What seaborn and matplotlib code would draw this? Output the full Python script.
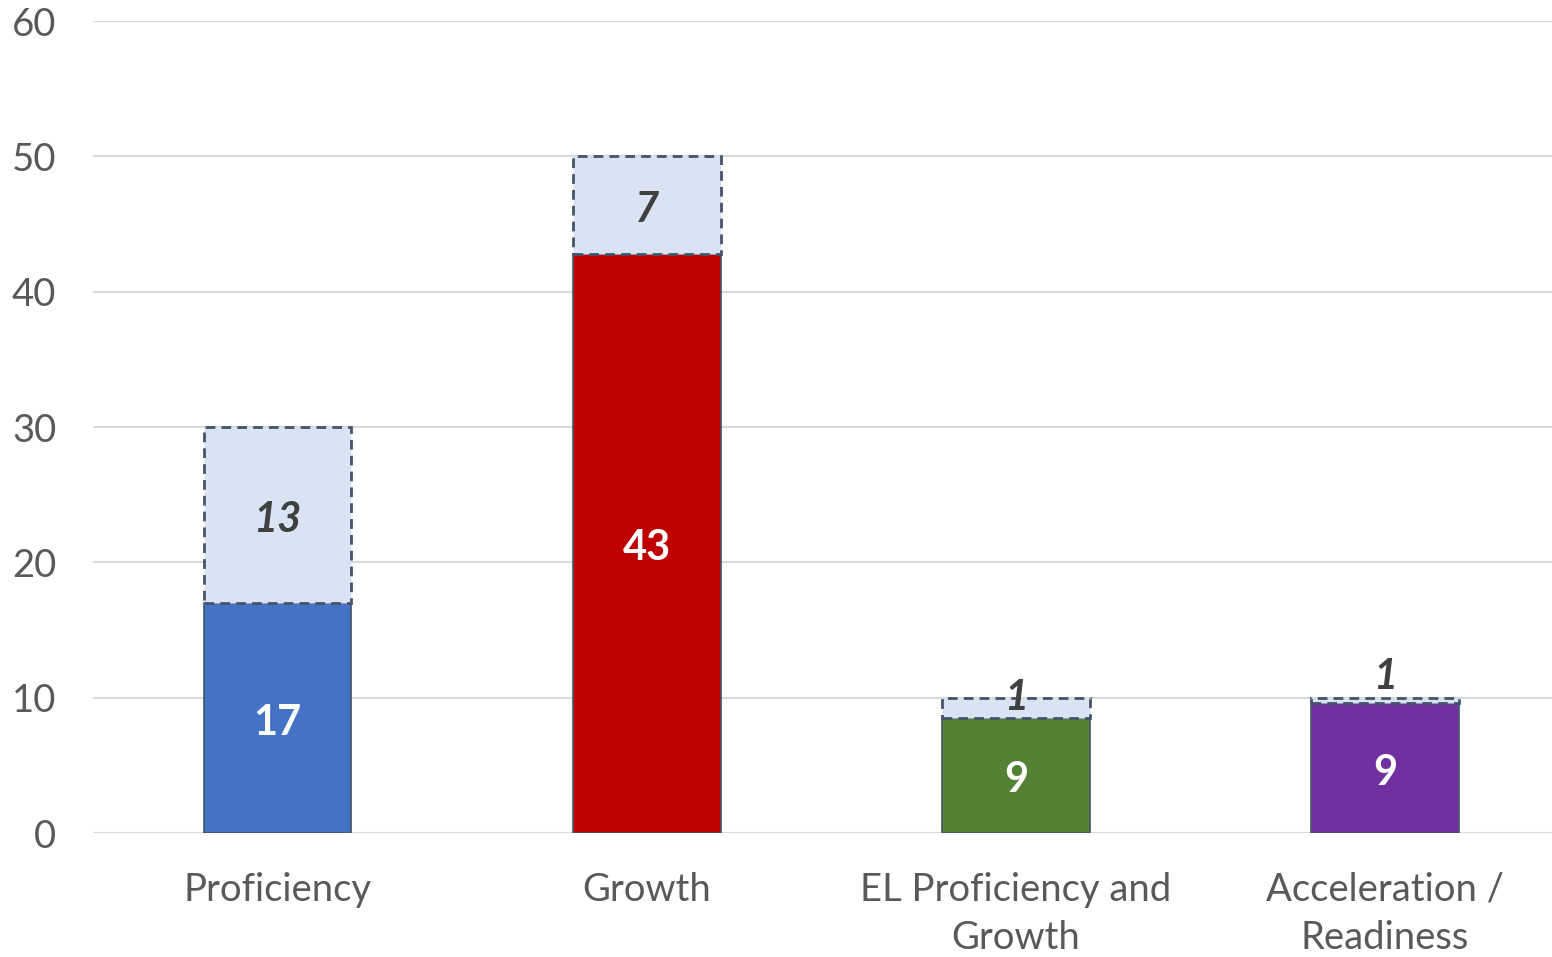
import matplotlib
matplotlib.use("Agg")
import matplotlib.pyplot as plt
import seaborn as sns
import pandas as pd

categories = ["Proficiency", "Growth", "EL Proficiency and\nGrowth", "Acceleration /\nReadiness"]
base_values = [17, 42.8, 8.5, 9.6]
total_values = [30, 50, 10, 10]
base_labels = ["17", "43", "9", "9"]
extra_labels = ["13", "7", "1", "1"]
bar_colors = ["#4472C4", "#C00000", "#548235", "#7030A0"]
yticks = [0, 10, 20, 30, 40, 50, 60]

sns.set_theme(style="white")
plt.rcParams['font.family'] = ['Lato', 'DejaVu Sans']

extra_values = [t - b for t, b in zip(total_values, base_values)]
df = pd.DataFrame({"cat": categories, "base": base_values, "extra": extra_values, "total": total_values})

fig = plt.figure(figsize=(15.52, 9.57), dpi=100)
ax = fig.add_axes([93 / 1552, (957 - 833) / 957, 1 - 93 / 1552, (833 - 21) / 957])

sns.barplot(data=df, x="cat", y="base", hue="cat", palette=bar_colors, legend=False,
            saturation=1, width=0.4, edgecolor="#44546A", linewidth=1.2, ax=ax, zorder=3)
sns.barplot(data=df, x="cat", y="extra", bottom=df["base"].values, color="#DAE3F3",
            width=0.4, edgecolor="#44546A", linewidth=2.0, linestyle=(0, (3.5, 2.2)),
            ax=ax, zorder=3, saturation=1)

for p in ax.patches[:4]:
    p.set_linestyle("-")

ax.set_ylim(0, 60)
ax.set_xlim(-0.5, (1552 - 278) / 369)
ax.set_yticks(yticks)
ax.set_yticklabels([str(v) for v in yticks])
ax.yaxis.grid(True, color="#D9D9D9", linewidth=1.5, zorder=0)
ax.set_axisbelow(True)
for s in ax.spines.values():
    s.set_visible(False)
ax.tick_params(axis="both", length=0, labelsize=27.5, colors="#595959")
ax.tick_params(axis="y", pad=26.5)
ax.tick_params(axis="x", pad=28)
ax.set_xlabel("")
ax.set_ylabel("")
for lbl in ax.get_xticklabels():
    lbl.set_linespacing(1.42)

for i, (b, e, t) in enumerate(zip(base_values, extra_values, total_values)):
    ax.annotate(base_labels[i], (i, b / 2), xytext=(0, -3.6), textcoords="offset points",
                ha="center", va="center", color="white", fontsize=30, fontweight="bold")
    if e >= 2:
        ey = b + e / 2
    elif e >= 1:
        ey = t + 0.35
    else:
        ey = t + 1.9
    ax.annotate(extra_labels[i], (i, ey), xytext=(0, -3.6), textcoords="offset points",
                ha="center", va="center", color="#404040",
                fontsize=30, fontweight="bold", fontstyle="italic")

fig.savefig("out.png", dpi=100)
